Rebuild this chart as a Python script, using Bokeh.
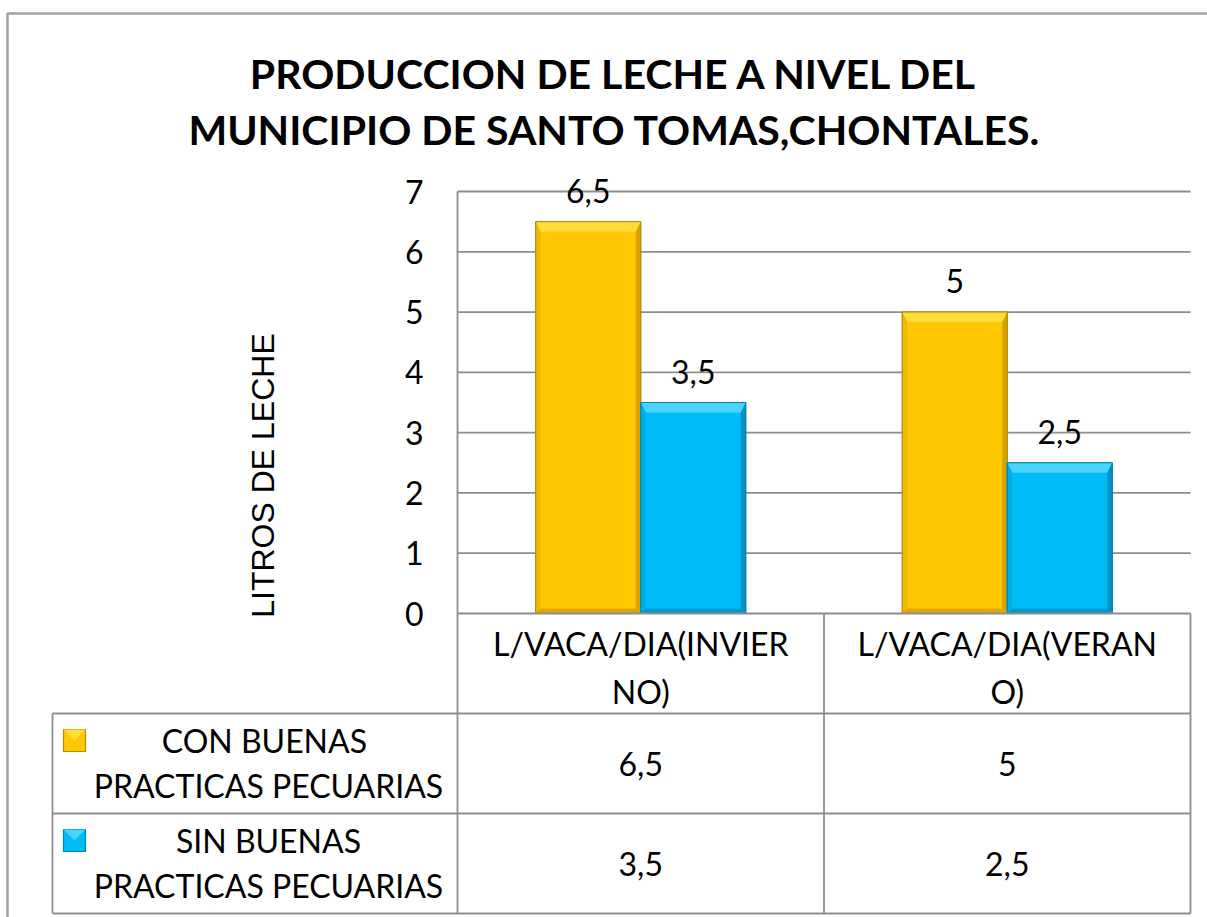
import numpy as np
from bokeh.plotting import figure
from bokeh.models import Range1d, LinearAxis, FixedTicker
from bokeh.core.properties import value
from bokeh.embed import file_html
from bokeh.resources import INLINE

# ---------------- data ----------------
TITLE_LINES = ["PRODUCCION DE LECHE A NIVEL DEL", "MUNICIPIO DE SANTO TOMAS,CHONTALES."]
Y_LABEL = "LITROS DE LECHE"
CATEGORY_LINES = [["L/VACA/DIA(INVIER", "NO)"], ["L/VACA/DIA(VERAN", "O)"]]
SERIES_LINES = [["CON  BUENAS", "PRACTICAS PECUARIAS"], ["SIN BUENAS", "PRACTICAS PECUARIAS"]]
CON_BUENAS = [6.5, 5.0]
SIN_BUENAS = [3.5, 2.5]
Y_TICKS = [0, 1, 2, 3, 4, 5, 6, 7]

# ---------------- styles ----------------
FONT = "Lato"
GRID = "#8E8E8E"
YEL = dict(body="#FFC800", top="#FFDD3A", left="#F2B800", right="#D9A200", bottom="#DDA600", line="#B88A00")
BLU = dict(body="#00BCF6", top="#4DD3FF", left="#00AEE6", right="#0092C8", bottom="#0098CE", line="#0082B4")

W, H = 1207, 917
OX, OY = 0, 0                     # canvas origin on the page
X0, X1 = 457, 1190                # plot area (page px)
Y0, YT = 613, 191                 # value 0 and top tick (page px)
ncat = len(CATEGORY_LINES)
upx = ncat / (X1 - X0)
vpx = Y_TICKS[-1] / (Y0 - YT)

p = figure(width=W, height=H, output_backend="svg", toolbar_location=None,
           x_axis_location=None, y_axis_location=None, title=None,
           x_range=Range1d((OX - X0) * upx, (OX + W - X0) * upx),
           y_range=Range1d(-(OY + H - Y0) * vpx, (Y0 - OY) * vpx),
           min_border=0, outline_line_color=None, border_fill_color="white")
p.extra_x_ranges = {"px": Range1d(OX, OX + W)}
p.extra_y_ranges = {"px": Range1d(OY + H, OY)}
p.xgrid.visible = False
p.ygrid.visible = False
PX = dict(x_range_name="px", y_range_name="px")

# ---------------- gridlines ----------------
gt = [t for t in Y_TICKS if t > 0]
p.segment(x0=[0] * len(gt), x1=[ncat] * len(gt), y0=gt, y1=gt, line_color=GRID, line_width=1.8)

# ---------------- y axis ----------------
ax = LinearAxis(fixed_location=0, bounds=(0, Y_TICKS[-1]), ticker=FixedTicker(ticks=Y_TICKS),
                major_tick_in=0, major_tick_out=0, minor_tick_in=0, minor_tick_out=0,
                axis_line_color=GRID, axis_line_width=1.8,
                major_label_text_font=FONT, major_label_text_font_size="32px",
                major_label_text_color="black", major_label_standoff=34)
p.add_layout(ax, "left")

# ---------------- bars with bevel ----------------
bw = 105 * upx
bev_x = 5 * upx
bev_top = 10 * vpx
bev_bot = 5 * vpx
idx = np.arange(ncat)

def bars(vals, centers, c):
    x0 = centers - bw / 2
    x1 = centers + bw / 2
    v = np.array(vals, dtype=float)
    p.quad(left=x0, right=x1, bottom=0, top=v, fill_color=c["body"], line_color=c["line"], line_width=1)
    for side in ("top", "left", "right", "bottom"):
        xs, ys = [], []
        for a, b, t in zip(x0, x1, v):
            if side == "top":
                xs.append([a, b, b - bev_x, a + bev_x]); ys.append([t, t, t - bev_top, t - bev_top])
            elif side == "left":
                xs.append([a, a, a + bev_x, a + bev_x]); ys.append([0, t, t - bev_top, bev_bot])
            elif side == "right":
                xs.append([b, b, b - bev_x, b - bev_x]); ys.append([0, t, t - bev_top, bev_bot])
            else:
                xs.append([a, b, b - bev_x, a + bev_x]); ys.append([0, 0, bev_bot, bev_bot])
        p.patches(xs=xs, ys=ys, fill_color=c[side], line_color=None)
    p.quad(left=x0, right=x1, bottom=0, top=v, fill_color=None, line_color=c["line"], line_width=1)
    labels = [f"{x:g}".replace(".", ",") for x in vals]
    p.text(x=centers, y=v, text=labels, y_offset=-31, text_align="center", text_baseline="middle",
           text_font=value(FONT), text_font_size="32px", text_color="black")

bars(CON_BUENAS, idx + 0.5 - bw / 2, YEL)
bars(SIN_BUENAS, idx + 0.5 + bw / 2, BLU)

# ---------------- outer chart border (top and left only are visible) ----------------
p.line(x=[1230, 7, 7], y=[13, 13, 940], line_color="#A3A3A3", line_width=2.5, **PX)

# ---------------- data table ----------------
TL, TR = 52, X1
R0, R1, R2, R3 = Y0, 713, 813, 913
colx = [X0 + k * (X1 - X0) / ncat for k in range(ncat + 1)]
lx = [[X0, TR], [TL, TR], [TL, TR], [TL, TR], [TL, TL]]
ly = [[R0, R0], [R1, R1], [R2, R2], [R3, R3], [R1, R3]]
for cx in colx:
    lx.append([cx, cx]); ly.append([R0, R3])
p.multi_line(xs=lx, ys=ly, line_color=GRID, line_width=1.8, **PX)

TXT = dict(text_align="center", text_baseline="middle", text_font=value(FONT),
           text_font_size="32px", text_color="black")
ccx = [(colx[k] + colx[k + 1]) / 2 for k in range(ncat)]
# header
p.text(x=ccx, y=[643] * ncat, text=[c[0] for c in CATEGORY_LINES], **TXT, **PX)
p.text(x=ccx, y=[691] * ncat, text=[c[1] for c in CATEGORY_LINES], **TXT, **PX)
# rows
row_mid = [(R1 + R2) / 2, (R2 + R3) / 2]
lab_x = 268
for r, (lines, vals, c) in enumerate(zip(SERIES_LINES, [CON_BUENAS, SIN_BUENAS], [YEL, BLU])):
    m = row_mid[r]
    p.text(x=[lab_x, lab_x], y=[m - 23, m + 22], text=lines, **TXT, **PX)
    p.text(x=ccx, y=[m] * ncat, text=[f"{x:g}".replace(".", ",") for x in vals], **TXT, **PX)
    p.rect(x=[74], y=[m - 23], width=22, height=22, fill_color=c["body"], line_color=c["line"],
           line_width=1.2, **PX)
    p.patches(xs=[[63, 85, 74]], ys=[[m - 34, m - 34, m - 23]], fill_color=c["top"], line_color=None, **PX)

# ---------------- title and y label ----------------
p.text(x=[614, 614], y=[73, 129], text=TITLE_LINES, text_align="center", text_baseline="middle",
       text_font=value(FONT), text_font_style="bold", text_font_size="41px", text_color="black", **PX)
p.text(x=[262], y=[475], text=[Y_LABEL], angle=np.pi / 2, text_align="center", text_baseline="middle",
       text_font=value("Liberation Sans"), text_font_size="32px", text_color="black", **PX)

open("out.html", "w").write(file_html(p, INLINE))
